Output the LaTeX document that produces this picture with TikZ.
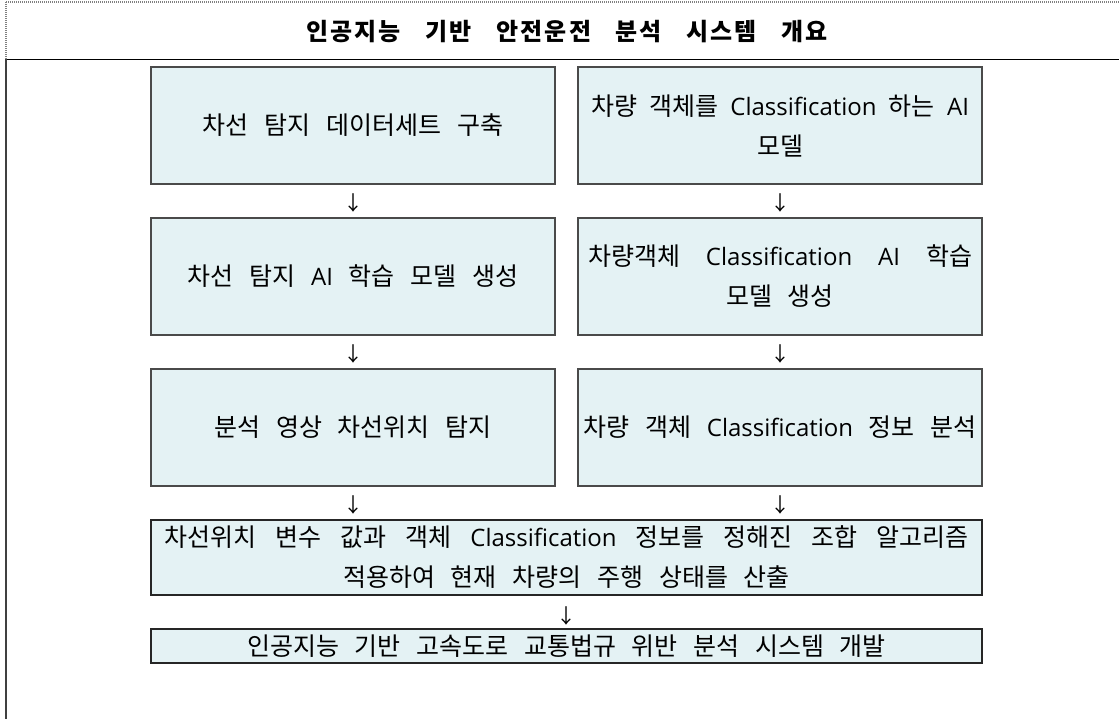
\documentclass[tikz,border=0pt]{standalone}
\usepackage{fontspec}
\setmainfont{Noto Sans CJK KR}[WordSpace=2.8]
\newfontfamily\titlefont{Noto Sans CJK KR}[WordSpace=3.2,LetterSpace=9]
\newfontfamily\arrowfont{Noto Sans CJK KR}
\newfontfamily\lat{Open Sans}
\definecolor{boxfill}{HTML}{E4F2F4}
\definecolor{boxline}{HTML}{4A4A4A}
\newcommand{\lt}[1]{{\lat\fontsize{24}{40}\selectfont #1}}
\newcommand{\jline}[2]{\makebox[#1][s]{#2}}
\tikzset{
  box/.style={draw=boxline, fill=boxfill, line width=1.5pt, minimum width=404pt,
    minimum height=117pt, inner sep=0pt, align=center,
    font=\fontsize{25}{40}\selectfont},
  wide/.style={box, minimum width=831pt},
  arr/.style={inner sep=0pt, font=\arrowfont\fontsize{20}{20}\selectfont},
  frame/.style={line width=1.2pt, gray, dash pattern=on 1pt off 1pt},
}
\begin{document}
\begin{tikzpicture}[x=1pt,y=-1pt]
\useasboundingbox (0,0) rectangle (1119,719);
% frame
\draw[frame] (6,2) -- (1119,2);
\draw[frame] (6,2) -- (6,59.5);
\draw[line width=1.5pt, black] (6,59.5) -- (1119,59.5);
\draw[line width=2pt, black!75] (6,59.5) -- (6,719);
\node[font=\titlefont\bfseries\fontsize{24}{28}\selectfont] (title) at (567,32) {인공지능 기반 안전운전 분석 시스템 개요};
% boxes
\node[box] (l1) at (353,125.5) {차선 탐지 데이터세트 구축};
\node[box] (r1) at (780,125.5) {\jline{378pt}{차량 객체를 \lt{Classification} 하는 \lt{AI}}\\모델};
\node[box] (l2) at (353,276.5) {차선 탐지 \lt{AI} 학습 모델 생성};
\node[box] (r2) at (780,276.5) {\jline{384pt}{차량객체 \lt{Classification} \lt{AI} 학습}\\모델 생성};
\node[box] (l3) at (353,427.5) {분석 영상 차선위치 탐지};
\node[box] (r3) at (780,427.5) {차량 객체 \lt{Classification} 정보 분석};
\node[wide, minimum height=75pt, draw=black!85] (w1) at (566.5,557.5) {\jline{805pt}{차선위치 변수 값과 객체 \lt{Classification} 정보를 정해진 조합 알고리즘}\\적용하여 현재 차량의 주행 상태를 산출};
\node[wide, minimum height=34pt, draw=black!85, line width=1.8pt] (w2) at (566.5,646) {인공지능 기반 고속도로 교통법규 위반 분석 시스템 개발};
% arrows (printed glyphs)
\node[arr] (a1) at (353,203) {↓};
\node[arr] (a2) at (780,203) {↓};
\node[arr] (a3) at (353,354) {↓};
\node[arr] (a4) at (780,354) {↓};
\node[arr] (a5) at (353,505) {↓};
\node[arr] (a6) at (780,505) {↓};
\node[arr] (a7) at (566,616) {↓};
\end{tikzpicture}
\end{document}
